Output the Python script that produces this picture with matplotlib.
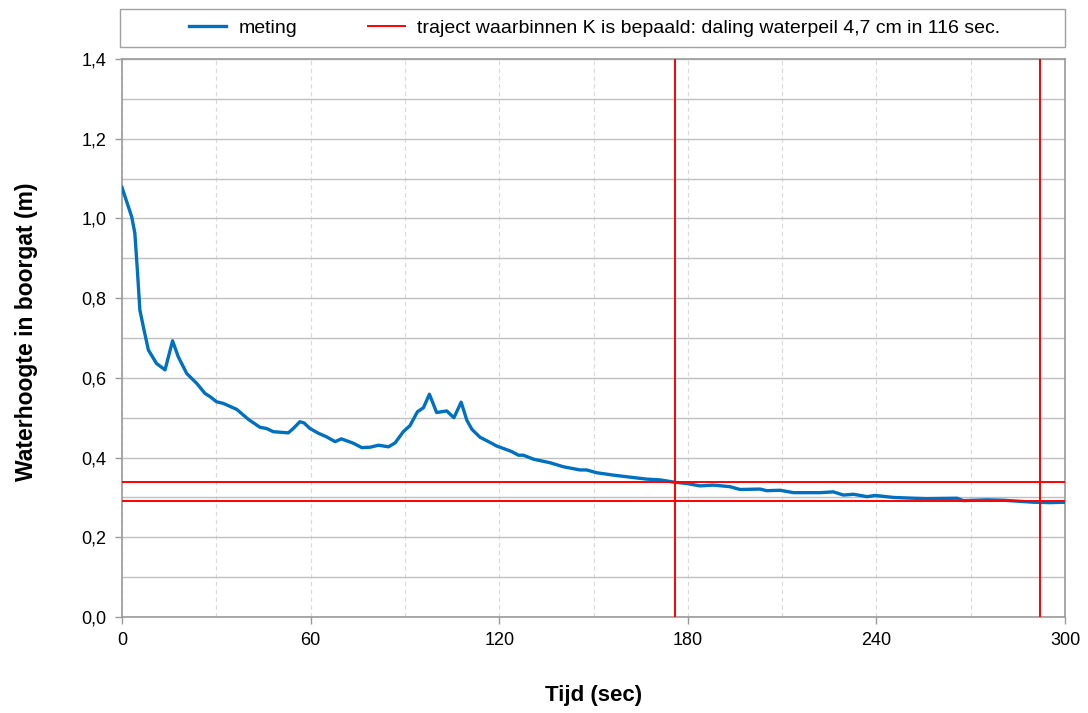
import numpy as np
import matplotlib.pyplot as plt
from matplotlib.patches import Rectangle
from matplotlib.ticker import FuncFormatter, MultipleLocator

plt.rcParams['font.family'] = ['Liberation Sans', 'DejaVu Sans']

# waterhoogte-meting (s, m)
tijd = [0, 3.1, 4.1, 4.9, 5.7, 6.8, 8.4, 11.0, 13.7, 16.1, 17.9, 20.6, 23.8,
        26.4, 28.0, 30.1, 32.2, 36.5, 40.2, 43.9, 46.0, 48.1, 52.9, 54.5,
        56.6, 57.9, 59.8, 62.5, 65.1, 67.8, 69.8, 73.6, 76.3, 78.9, 81.6,
        84.8, 86.9, 89.5, 91.6, 94.0, 95.9, 97.8, 100.1, 103.3, 105.6, 107.9,
        109.7, 111.3, 113.9, 117.1, 119.2, 121.3, 124.0, 126.1, 127.7, 130.9,
        136.2, 140.4, 145.7, 147.8, 151.0, 156.3, 160.5, 166.9, 171.2, 176.0,
        179.7, 183.9, 188.1, 193.4, 196.6, 203.0, 205.1, 209.4, 213.6, 222.1,
        226.3, 229.5, 232.7, 237.0, 239.6, 245.4, 251.8, 256.0, 265.6, 267.7,
        275.1, 280.4, 290.0, 295.2, 300.0]
hoogte = [1.078, 1.004, 0.963, 0.870, 0.770, 0.728, 0.670, 0.636, 0.620, 0.693,
          0.653, 0.611, 0.586, 0.561, 0.553, 0.540, 0.536, 0.521, 0.496, 0.476,
          0.473, 0.465, 0.462, 0.473, 0.490, 0.487, 0.473, 0.461, 0.452, 0.440,
          0.447, 0.436, 0.425, 0.426, 0.431, 0.427, 0.437, 0.465, 0.480, 0.515,
          0.525, 0.559, 0.513, 0.517, 0.500, 0.539, 0.494, 0.471, 0.451, 0.438,
          0.429, 0.423, 0.415, 0.406, 0.406, 0.396, 0.387, 0.377, 0.369, 0.369,
          0.362, 0.356, 0.352, 0.346, 0.344, 0.338, 0.335, 0.329, 0.331, 0.327,
          0.320, 0.321, 0.317, 0.318, 0.312, 0.312, 0.314, 0.306, 0.308, 0.302,
          0.305, 0.300, 0.298, 0.297, 0.298, 0.292, 0.294, 0.293, 0.288, 0.287,
          0.288]

# traject waarbinnen K is bepaald
t_begin, t_eind = 176, 292
h_begin, h_eind = 0.338, 0.291

fig = plt.figure(figsize=(10.88, 7.13), dpi=100)
ax = fig.add_axes([0.1121, 0.1346, 0.8668, 0.7827])

ax.set_xlim(0, 300)
ax.set_ylim(0, 1.4)
ax.xaxis.set_major_locator(MultipleLocator(60))
ax.xaxis.set_minor_locator(MultipleLocator(30))
ax.yaxis.set_major_locator(MultipleLocator(0.2))
ax.yaxis.set_minor_locator(MultipleLocator(0.1))
ax.yaxis.set_major_formatter(FuncFormatter(lambda v, p: f'{v:.1f}'.replace('.', ',')))

ax.grid(True, axis='y', which='both', color='#c0c0c0', lw=1.0, ls='-')
ax.grid(True, axis='x', which='both', color='#d9d9d9', lw=0.8, ls=(0, (4, 3)))
ax.set_axisbelow(True)

ax.tick_params(which='major', direction='out', length=5, width=1, color='#9a9a9a',
               labelsize=13, pad=6)
ax.tick_params(which='minor', length=0)
for s in ax.spines.values():
    s.set_color('#9a9a9a')
    s.set_linewidth(1.2)

ax.plot(tijd, hoogte, color='#0070c0', lw=2.4, label='meting', zorder=3)

kleur = '#ff0000'
ax.axhline(h_begin, color=kleur, lw=1.4, zorder=4,
           label='traject waarbinnen K is bepaald: daling waterpeil 4,7 cm in 116 sec.')
ax.axhline(h_eind, color=kleur, lw=1.4, zorder=4)
ax.axvline(t_begin, color=kleur, lw=1.4, zorder=4)
ax.axvline(t_eind, color=kleur, lw=1.4, zorder=4)

ax.set_xlabel('Tijd (sec)', fontsize=16, fontweight='bold')
ax.set_ylabel('Waterhoogte in boorgat (m)', fontsize=16.5, fontweight='bold')
ax.xaxis.set_label_coords(0.5, -0.122)
ax.yaxis.set_label_coords(-0.089, 0.511)

fig.patches.append(Rectangle((120 / 1088, 1 - 47 / 713), 945 / 1088, 38 / 713,
                             transform=fig.transFigure, fill=False,
                             edgecolor='#a0a0a0', lw=1.0))
fig.legend(loc='center', bbox_to_anchor=(595 / 1088, 1 - 28 / 713), ncol=2,
           frameon=False, fontsize=14, handlelength=1.9, handletextpad=0.65,
           columnspacing=3.6)

fig.savefig('out.png', dpi=100)
